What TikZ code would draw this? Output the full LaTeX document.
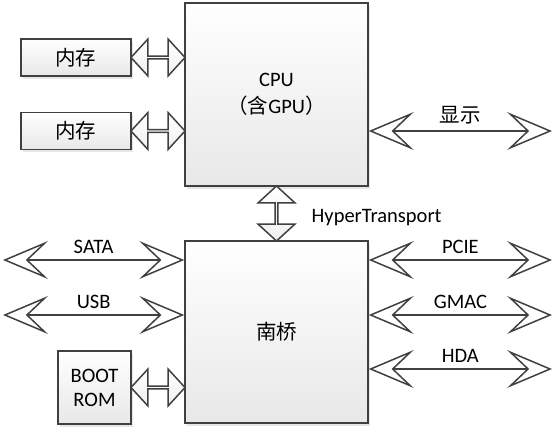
\documentclass[tikz,border=0pt]{standalone}
\usepackage{fontspec}
\setmainfont{Carlito}
\newfontfamily\cjk{Noto Sans CJK SC}
\usetikzlibrary{calc,positioning,arrows.meta,shapes.arrows,shadows}

\definecolor{edgegray}{HTML}{404040}
\tikzset{
  box/.style={draw=edgegray, line width=1.5pt, top color=white, bottom color=black!9,
    drop shadow={shadow xshift=2pt, shadow yshift=-2.5pt, opacity=.2}, inner sep=0pt, align=center},
  fatarrow/.style={double arrow, draw=edgegray, line width=1.5pt, top color=white, bottom color=black!6,
    inner sep=0pt, minimum width=37pt, double arrow head extend=10pt,
    double arrow tip angle=95, double arrow head indent=0pt},
  bushead/.tip={Stealth[length=45pt, width=38pt, inset=20pt, fill=white]},
  bus/.style={draw=edgegray, line width=1.5pt, bushead-bushead},
  buslabel/.style={above=6pt, inner sep=0pt}
}

\begin{document}
\begin{tikzpicture}[x=1pt, y=-1pt, font=\fontsize{20.5}{27}\selectfont]
\useasboundingbox (0,0) rectangle (558,432);

\node[box, minimum width=183pt, minimum height=183pt] (cpu) at (276.5,94.5) {CPU\\{\cjk （含}GPU{\cjk ）}};
\node[box, minimum width=183pt, minimum height=182pt] (sb) at (276.5,332) {\cjk 南桥};
\node[box, minimum width=110pt, minimum height=37pt] (mem1) at (76,57.5) {\cjk 内存};
\node[box, minimum width=110pt, minimum height=37pt] (mem2) at (76,131) {\cjk 内存};
\node[box, minimum width=73pt, minimum height=73pt, font=\fontsize{20.5}{24}\selectfont] (bootrom) at (94.5,387.5) {BOOT\\ROM};

\node[fatarrow, minimum height=54pt] (mem1link) at ($(mem1.east)!.5!(mem1.east -| cpu.west)$) {};
\node[fatarrow, minimum height=54pt] (mem2link) at ($(mem2.east)!.5!(mem2.east -| cpu.west)$) {};
\node[fatarrow, minimum height=54pt] (bootlink) at ($(bootrom.east)!.5!(bootrom.east -| sb.west)$) {};
\node[fatarrow, minimum height=55pt, rotate=90] (htlink) at ($(cpu.south)!.5!(sb.north)$) {};
\node[anchor=base west, inner sep=0pt] (htlabel) at ([xshift=35pt, yshift=-9pt]htlink.center) {HyperTransport};

\coordinate (dispend) at (552,131);
\coordinate (sataend) at (3,260);
\coordinate (usbend) at (3,315);
\coordinate (pcieend) at (552,260);
\coordinate (gmacend) at (552,315);
\coordinate (hdaend) at (552,369);

\draw[bus] (cpu.east |- dispend) -- (dispend) node[midway, buslabel] (displabel) {\cjk 显示};
\draw[bus] (sataend) -- (sb.west |- sataend) node[midway, buslabel] (satalabel) {SATA};
\draw[bus] (usbend) -- (sb.west |- usbend) node[midway, buslabel] (usblabel) {USB};
\draw[bus] (sb.east |- pcieend) -- (pcieend) node[midway, buslabel] (pcielabel) {PCIE};
\draw[bus] (sb.east |- gmacend) -- (gmacend) node[midway, buslabel] (gmaclabel) {GMAC};
\draw[bus] (sb.east |- hdaend) -- (hdaend) node[midway, buslabel] (hdalabel) {HDA};
\end{tikzpicture}
\end{document}
